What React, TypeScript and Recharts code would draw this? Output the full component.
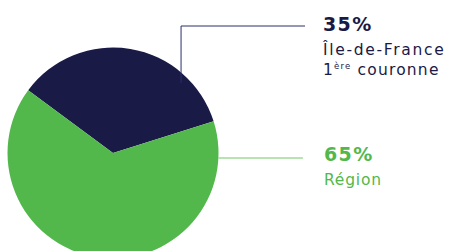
import { PieChart, Pie, Cell } from "recharts";

const labels = ["Île-de-France 1ère couronne", "Région"];
const values = [35, 65];
const colors = ["#1a1a47", "#53b84b"];

const data = labels.map((name, i) => ({ name, value: values[i] }));

const FONT = "'DejaVu Sans', sans-serif";

function renderLabel(props: any) {
  const { cx, cy, outerRadius, index, value } = props;
  if (index === 0) {
    const lx = cx + outerRadius * 0.645;
    const tx = cx + outerRadius * 1.99;
    return (
      <g>
        <polyline
          points={`${lx},${cy - 70} ${lx},${cy - 127} ${cx + outerRadius * 1.82},${cy - 127}`}
          fill="none"
          stroke="#2a2f6b"
          strokeWidth={1}
        />
        <text x={tx} y={cy - 122} fill="#1a1a47" fontFamily={FONT} fontSize={19} fontWeight={700} letterSpacing={1.4}>
          {value}%
        </text>
        <text x={tx} y={cy - 98} fill="#1a1a47" fontFamily={FONT} fontSize={15.5} letterSpacing={1.7}>
          Île-de-France
        </text>
        <text x={tx} y={cy - 78} fill="#1a1a47" fontFamily={FONT} fontSize={15.5} letterSpacing={1.2}>
          1<tspan fontSize={8.5} dy={-6}>ère</tspan>
          <tspan dy={6}> couronne</tspan>
        </text>
      </g>
    );
  }
  const tx = cx + outerRadius * 2.0;
  return (
    <g>
      <line x1={cx + outerRadius} y1={cy + 5} x2={cx + outerRadius * 1.8} y2={cy + 5} stroke="#6cc865" strokeWidth={1} />
      <text x={tx} y={cy + 8} fill="#53b84b" fontFamily={FONT} fontSize={19} fontWeight={700} letterSpacing={1.4}>
        {value}%
      </text>
      <text x={tx} y={cy + 32} fill="#53b84b" fontFamily={FONT} fontSize={15.5} letterSpacing={0.8}>
        Région
      </text>
    </g>
  );
}

export default function App() {
  return (
    <div style={{ position: "absolute", left: 0, top: 0, width: 452, height: 251, background: "#fff" }}>
      <PieChart width={452} height={251} margin={{ top: 0, right: 0, bottom: 0, left: 0 }}>
        <Pie
          data={data}
          dataKey="value"
          cx={113}
          cy={153}
          outerRadius={105.5}
          startAngle={143.5}
          endAngle={-216.5}
          stroke="none"
          isAnimationActive={false}
          label={renderLabel}
          labelLine={false}
        >
          {data.map((_, i) => (
            <Cell key={i} fill={colors[i]} />
          ))}
        </Pie>
      </PieChart>
    </div>
  );
}
